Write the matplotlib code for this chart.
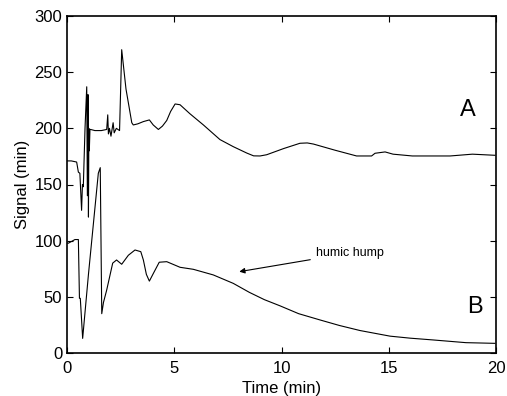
import matplotlib
matplotlib.use('Agg')
import matplotlib.pyplot as plt

plt.rcParams['font.family'] = ['Liberation Sans', 'DejaVu Sans']

# trace A (upper)
time_a = [0.0, 0.2, 0.45, 0.53, 0.6, 0.68, 0.72, 0.76, 0.84, 0.92, 0.95, 0.98, 1.0, 1.02, 1.04,
          1.07, 1.1, 1.3, 1.6, 1.85, 1.9, 1.93, 1.98, 2.05, 2.15, 2.2, 2.3, 2.45, 2.55, 2.75,
          3.02, 3.09, 3.3, 3.56, 3.84, 4.02, 4.26, 4.45, 4.65, 4.83, 5.04, 5.27, 5.73, 6.36,
          7.13, 7.75, 8.38, 8.7, 9.0, 9.31, 10.1, 10.86, 11.2, 11.49, 12.5, 13.5, 14.2,
          14.36, 14.83, 15.2, 16.1, 17.86, 18.9, 19.95]
signal_a = [171, 171, 170, 161, 160, 127, 150, 148, 200, 237, 140, 230, 121, 200, 180,
            199, 199, 198, 198, 199, 212, 195, 200, 193, 205, 196, 200, 198, 270, 235,
            205, 203, 204, 206, 207.5, 203, 199, 202, 207, 215, 221.7, 221, 213, 203,
            190, 183.7, 178, 175.5, 175.4, 176.5, 182, 186.7, 187, 186, 180.5, 175.4, 175.4,
            177.8, 179, 177, 175.4, 175.4, 177, 176]

# trace B (lower)
time_b = [0.0, 0.06, 0.37, 0.53, 0.58, 0.62, 0.73, 1.0, 1.46, 1.55, 1.62, 1.7, 1.85,
          2.13, 2.31, 2.55, 2.86, 3.17, 3.44, 3.56, 3.7, 3.84, 4.03, 4.3, 4.65, 5.27, 5.89,
          6.82, 7.75, 8.5, 9.2, 9.93, 10.8, 11.8, 12.7, 13.66, 15.06, 16.0, 17.08, 18.6,
          19.95]
signal_b = [98, 97.7, 101, 101, 48.7, 48.7, 13, 70, 160, 165, 35, 45, 56,
            80, 82.8, 79, 87, 91.7, 90.2, 82.8, 70, 64, 71, 80.8, 81.3, 76.3, 74.5,
            69.5, 62, 54, 47.5, 42, 35, 29.4, 24.5, 20, 15, 13.2, 11.6, 9.2,
            8.6]


def main():
    fig = plt.figure(figsize=(5.07, 3.96), dpi=100)
    ax = fig.add_axes([67 / 507, 1 - 353 / 396, (496 - 67) / 507, (353 - 16) / 396])

    ax.plot(time_a, signal_a, color='black', linewidth=0.8)
    ax.plot(time_b, signal_b, color='black', linewidth=0.8)

    ax.text(18.7, 216, 'A', fontsize=17, ha='center', va='center')
    ax.text(19.0, 41, 'B', fontsize=17, ha='center', va='center')
    ax.annotate('humic hump', xy=(8.03, 72.4), xytext=(11.6, 89),
                fontsize=9, va='center', ha='left',
                arrowprops=dict(arrowstyle='-|>', color='black', lw=0.8,
                                mutation_scale=8, shrinkA=2, shrinkB=0))

    ax.set_xlim(0, 20)
    ax.set_ylim(0, 300)
    ax.set_xticks([0, 5, 10, 15, 20])
    ax.set_yticks([0, 50, 100, 150, 200, 250, 300])
    ax.tick_params(direction='in', top=True, right=True, labelsize=12, length=4, width=0.8)
    ax.tick_params(axis='x', pad=6)
    for s in ax.spines.values():
        s.set_linewidth(1.2)
    ax.set_xlabel('Time (min)', fontsize=12, labelpad=3)
    ax.set_ylabel('Signal (min)', fontsize=12, labelpad=3)

    fig.savefig('out.png', dpi=100)


if __name__ == "__main__":
    main()
